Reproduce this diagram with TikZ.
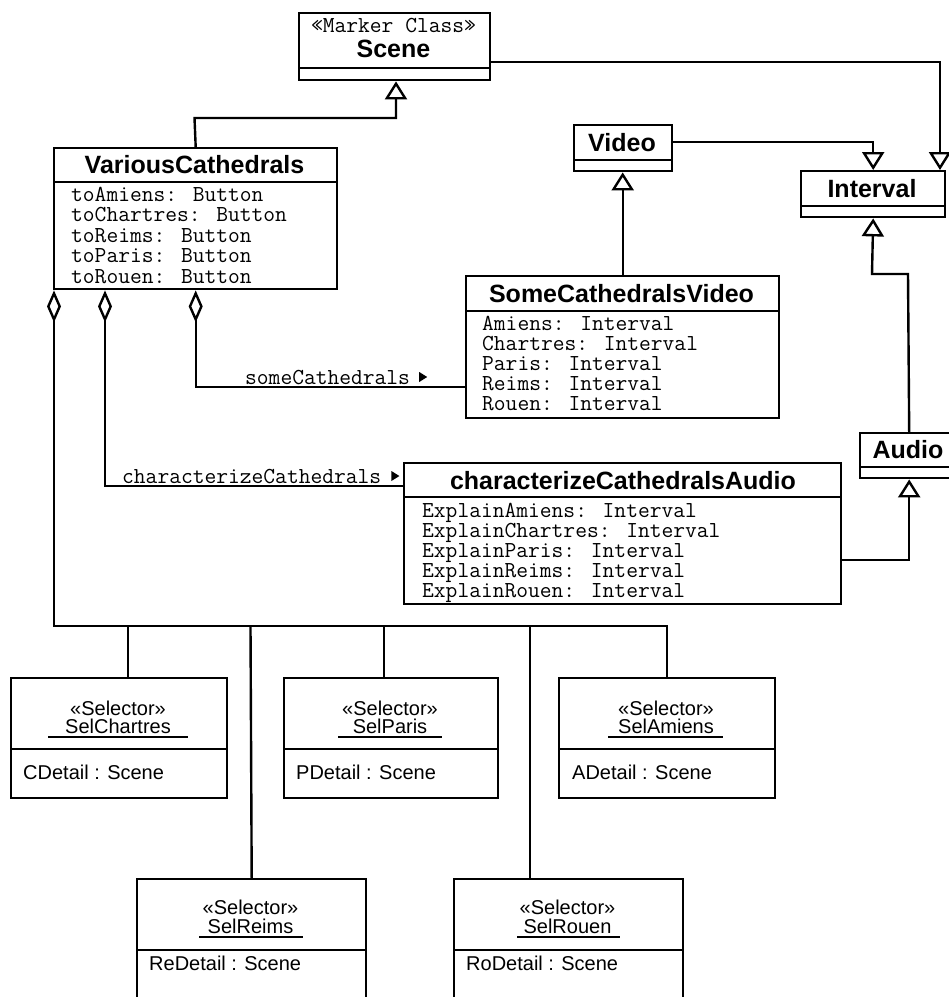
\documentclass[tikz,border=0pt]{standalone}
\usepackage{fontspec}
\setmainfont{Liberation Sans}
\usetikzlibrary{arrows.meta}
\begin{document}
\begin{tikzpicture}[x=1pt,y=-1pt,
  box/.style={draw, line width=2.4pt, inner sep=0pt, anchor=north west, fill=white},
  ttl/.style={font=\fontsize{25}{25}\selectfont\bfseries, inner sep=0pt, text height=18pt, text depth=0pt},
  attr/.style={font=\fontsize{22.86}{22.86}\selectfont\ttfamily, inner sep=0pt, anchor=west, text height=14pt, text depth=0pt},
  sel/.style={font=\fontsize{20}{20}\selectfont, inner sep=0pt, text height=14.3pt, text depth=0pt},
  selattr/.style={sel, anchor=west},
  sep/.style={line width=2.4pt},
  uline/.style={line width=1.5pt},
  link/.style={line width=2.4pt},
  gen/.style={link, -{Triangle[open, width=22pt, length=18pt]}},
  agg/.style={link, {Diamond[open, width=14pt, length=32pt]}-},
]
\useasboundingbox (0,0) rectangle (949,997);

% ---------- classes ----------
\node[box, minimum width=191, minimum height=67] (scene) at (298,12) {};
\draw[sep] (scene.west |- 0,68) -- (scene.east |- 0,68);
\node[attr, anchor=center] (scene-st) at (393.5,25) {«Marker Class»};
\node[ttl] (scene-t) at (393.5,48) {Scene};

\node[box, minimum width=283, minimum height=141] (vc) at (53,147) {};
\draw[sep] (vc.west |- 0,182) -- (vc.east |- 0,182);
\node[ttl] (vc-t) at (194.5,164) {VariousCathedrals};
\foreach \t [count=\i from 0] in {toAmiens: Button, toChartres: Button, toReims: Button, toParis: Button, toRouen: Button}
  \node[attr] (vc-a\i) at (71,{194+20.5*\i}) {\t};

\node[box, minimum width=98, minimum height=46] (video) at (573,124) {};
\draw[sep] (video.west |- 0,160) -- (video.east |- 0,160);
\node[ttl] (video-t) at (622,142) {Video};

\node[box, minimum width=144, minimum height=46] (interval) at (800,170) {};
\draw[sep] (interval.west |- 0,206) -- (interval.east |- 0,206);
\node[ttl] (interval-t) at (872,188) {Interval};

\node[box, minimum width=313, minimum height=142] (scv) at (465,275) {};
\draw[sep] (scv.west |- 0,311) -- (scv.east |- 0,311);
\node[ttl] (scv-t) at (621.5,293) {SomeCathedralsVideo};
\foreach \t [count=\i from 0] in {Amiens: Interval, Chartres: Interval, Paris: Interval, Reims: Interval, Rouen: Interval}
  \node[attr] (scv-a\i) at (482,{323+20*\i}) {\t};

\node[box, minimum width=98, minimum height=45] (audio) at (859,432) {};
\draw[sep] (audio.west |- 0,467) -- (audio.east |- 0,467);
\node[ttl] (audio-t) at (908,449) {Audio};

\node[box, minimum width=437, minimum height=141] (cca) at (403,462) {};
\draw[sep] (cca.west |- 0,497) -- (cca.east |- 0,497);
\node[ttl] (cca-t) at (623,480) {characterizeCathedralsAudio};
\foreach \t [count=\i from 0] in {ExplainAmiens: Interval, ExplainChartres: Interval, ExplainParis: Interval, ExplainReims: Interval, ExplainRouen: Interval}
  \node[attr] (cca-a\i) at (422,{510+20.2*\i}) {\t};

% ---------- selectors ----------
% SelChartres
\node[box, minimum width=216, minimum height=120] (selC) at (10,677) {};
\draw[sep] (selC.west |- 0,749) -- (selC.east |- 0,749);
\node[sel] (selC-st) at (118,708) {«Selector»};
\node[sel] (selC-n) at (118,726) {SelChartres};
\draw[uline] (48,737) -- (188,737);
\node[selattr] (selC-a) at (23,772) {CDetail : Scene};
% SelParis
\node[box, minimum width=214, minimum height=120] (selP) at (283,677) {};
\draw[sep] (selP.west |- 0,749) -- (selP.east |- 0,749);
\node[sel] (selP-st) at (390,708) {«Selector»};
\node[sel] (selP-n) at (390,726) {SelParis};
\draw[uline] (338,737) -- (442,737);
\node[selattr] (selP-a) at (296,772) {PDetail : Scene};
% SelAmiens
\node[box, minimum width=216, minimum height=120] (selA) at (558,677) {};
\draw[sep] (selA.west |- 0,749) -- (selA.east |- 0,749);
\node[sel] (selA-st) at (666,708) {«Selector»};
\node[sel] (selA-n) at (666,726) {SelAmiens};
\draw[uline] (608,737) -- (723,737);
\node[selattr] (selA-a) at (572,772) {ADetail : Scene};
% SelReims
\node[box, minimum width=229, minimum height=130] (selR) at (136,878) {};
\draw[sep] (selR.west |- 0,950) -- (selR.east |- 0,950);
\node[sel] (selR-st) at (250.5,907) {«Selector»};
\node[sel] (selR-n) at (250.5,926) {SelReims};
\draw[uline] (199,937) -- (303,937);
\node[selattr] (selR-a) at (149,963) {ReDetail : Scene};
% SelRouen
\node[box, minimum width=229, minimum height=130] (selRo) at (453,878) {};
\draw[sep] (selRo.west |- 0,950) -- (selRo.east |- 0,950);
\node[sel] (selRo-st) at (567.5,907) {«Selector»};
\node[sel] (selRo-n) at (567.5,926) {SelRouen};
\draw[uline] (517,937) -- (620,937);
\node[selattr] (selRo-a) at (466,963) {RoDetail : Scene};

% ---------- generalizations ----------
\draw[gen] (vc.north) -- (194.5,118) -- (396,118) -- (scene.south -| 396,0);
\draw[gen] (scene.east |- 0,62) -| (interval.north -| 940,0);
\draw[gen] (video.east |- 0,142) -| (interval.north);
\draw[gen] (scv.north) -- (scv.north |- video.south);
\draw[gen] (audio.north) -- (908,274) -- (872,274) -- (interval.south);
\draw[gen] (cca.east |- 0,560) -| (audio.south);

% ---------- aggregations ----------
\draw[agg] (vc.south) |- (scv.west |- 0,387);
\draw[agg] (vc.south -| 105,0) |- (cca.west |- 0,486);
\draw[agg] (vc.south -| 54,0) |- (selA.north |- 0,626) -- (selA.north);
\draw[link] (128,626) -- (selC.north -| 128,0);
\draw[link] (250.5,626) -- (selR.north);
\draw[link] (384,626) -- (selP.north -| 384,0);
\draw[link] (530,626) -- (selRo.north -| 530,0);

% ---------- role labels ----------
\node[attr] (lsc) at (245,377) {someCathedrals};
\fill[shift={(lsc.east)}] (9,-5) -- (17,0) -- (9,5) -- cycle;
\node[attr] (lcc) at (122,476) {characterizeCathedrals};
\fill[shift={(lcc.east)}] (10,-5) -- (18,0) -- (10,5) -- cycle;
\end{tikzpicture}
\end{document}
